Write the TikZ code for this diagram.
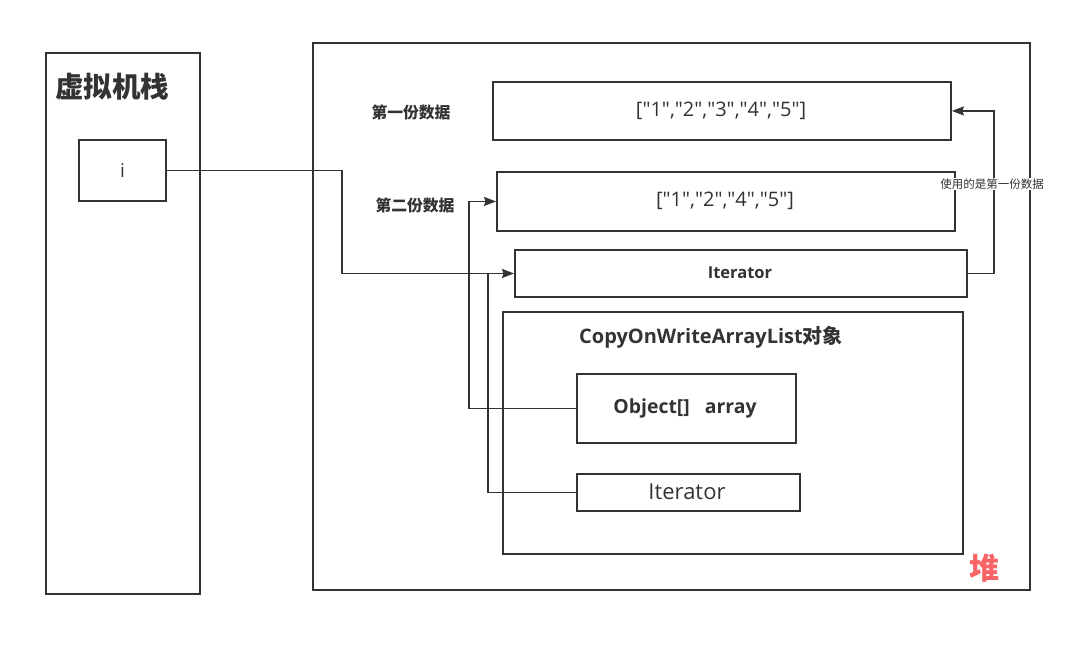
\documentclass[tikz,border=0pt]{standalone}
\usepackage{fontspec}
\setmainfont{Open Sans}[Ligatures=TeXOff]
\newfontfamily\cjk{Noto Sans CJK SC}
\usetikzlibrary{arrows.meta}
\definecolor{ink}{HTML}{333333}
\definecolor{heapred}{HTML}{F86466}
\tikzset{
  box/.style={draw=ink, line width=1.9pt, inner sep=0pt, anchor=north west, text=ink},
  wire/.style={draw=ink, line width=1.7pt},
  arr/.style={wire, -{Stealth[length=12pt,width=9pt,inset=1.5pt]}},
  lbl/.style={text=ink, inner sep=0pt},
}
\begin{document}
\begin{tikzpicture}[x=1pt,y=-1pt]
\useasboundingbox (0,0) rectangle (1080,653);
% stack
\node[box, minimum width=154pt, minimum height=541pt] (stack) at (45,52) {};
\node[lbl, font=\cjk\bfseries\fontsize{28.5}{31}\selectfont] (stitle) at (112.5,87) {虚拟机栈};
\node[box, minimum width=87pt, minimum height=61pt, anchor=center, font=\fontsize{19}{22}\selectfont] (i) at (122.5,170.5) {i};
% heap
\node[box, minimum width=717pt, minimum height=547pt] (heap) at (312,42) {};
\node[lbl, text=heapred, font=\cjk\bfseries\fontsize{30}{33}\selectfont] (heaplbl) at (984,568) {堆};
% data 1
\node[lbl, font=\cjk\bfseries\fontsize{15.8}{18}\selectfont] (d1lbl) at (411,112) {第一份数据};
\node[box, minimum width=458pt, minimum height=58pt] (box1) at (492,81) {};
\node[lbl, font=\fontsize{20}{23}\selectfont] (box1t) at (721,111) {["1","2","3","4","5"]};
% data 2
\node[lbl, font=\cjk\bfseries\fontsize{15.8}{18}\selectfont] (d2lbl) at (415,205) {第二份数据};
\node[box, minimum width=458pt, minimum height=59pt] (box2) at (496,171) {};
\node[lbl, font=\fontsize{20}{23}\selectfont] (box2t) at (725,201) {["1","2","4","5"]};
% iterator
\node[box, minimum width=452pt, minimum height=47pt] (it) at (514,249) {};
\node[lbl, font=\bfseries\fontsize{16.5}{19}\selectfont] (itt) at (740,272.5) {Iterator};
% COW object
\node[box, minimum width=460pt, minimum height=242pt] (cow) at (502,311) {};
\node[lbl, font=\bfseries\fontsize{20}{23}\selectfont] (cowt) at (711,337) {CopyOnWriteArrayList{\cjk 对象}};
\node[box, minimum width=219pt, minimum height=69pt] (obj) at (576,373) {};
\node[lbl, font=\bfseries\fontsize{19.4}{22}\selectfont] (objt) at (685,408) {Object[]\ \ \ array};
\node[box, minimum width=223pt, minimum height=37pt] (it2) at (576,473) {};
\node[lbl, font=\fontsize{22}{25}\selectfont] (it2t) at (687,492) {Iterator};
% connectors
\coordinate (join) at (488,272.5);
\draw[arr] (i.east) -- ++(175,0) |- (it.west);
\draw[arr] (obj.west) -- ++(-107,0) |- (box2.west);
\draw[wire] (it2.west) -| (join);
\draw[arr] (it.east) -- ++(26,0) |- (box1.east);
\node[lbl, fill=white, inner sep=1pt, font=\cjk\fontsize{11.5}{13}\selectfont] (uselbl) at (992,184) {使用的是第一份数据};
\end{tikzpicture}
\end{document}
